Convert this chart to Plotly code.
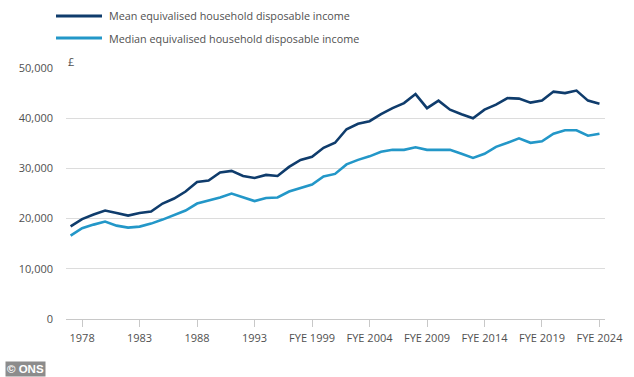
import plotly.graph_objects as go

years = [str(y) for y in range(1977, 1994)] + ["FYE %d" % y for y in range(1995, 2025)]

mean_income = [18450, 19900, 20800, 21600, 21100, 20600, 21100, 21400, 23000, 24000,
               25400, 27300, 27600, 29200, 29500, 28500, 28100, 28700, 28500, 30300,
               31700, 32300, 34100, 35100, 37800, 38900, 39400, 40800, 42000, 43000,
               44800, 42000, 43500, 41700, 40800, 40000, 41700, 42700, 44000, 43900,
               43100, 43500, 45300, 45000, 45500, 43500, 42900]

median_income = [16600, 18100, 18800, 19400, 18600, 18200, 18400, 19000, 19800, 20700,
                 21600, 23000, 23600, 24200, 25000, 24300, 23500, 24100, 24200, 25400,
                 26100, 26800, 28400, 28900, 30800, 31700, 32400, 33300, 33700, 33700,
                 34200, 33700, 33700, 33700, 32900, 32100, 32900, 34300, 35100, 36000,
                 35100, 35400, 36900, 37600, 37600, 36500, 36900]

tick_labels = ["1978", "1983", "1988", "1993", "FYE 1999", "FYE 2004",
               "FYE 2009", "FYE 2014", "FYE 2019", "FYE 2024"]
y_ticks = [0, 10000, 20000, 30000, 40000, 50000]

series_names = ["Mean equivalised household disposable income",
                "Median equivalised household disposable income"]
colors = ["#0f3c6c", "#2397c8"]

x = list(range(len(years)))
tick_pos = [years.index(t) for t in tick_labels]

FONT = "Open Sans"
TXT = "#505050"

fig = go.Figure()
for name, vals, col in zip(series_names, [mean_income, median_income], colors):
    fig.add_trace(go.Scatter(x=x, y=vals, mode="lines", name=name,
                             line=dict(color=col, width=2.6), showlegend=False,
                             customdata=years,
                             hovertemplate="%{customdata}: £%{y:,}<extra>" + name + "</extra>"))

fig.update_layout(
    width=634, height=377,
    margin=dict(l=66, r=29, t=68, b=58),
    paper_bgcolor="white", plot_bgcolor="white",
    font=dict(family=FONT, size=11, color=TXT),
    showlegend=False,
    xaxis=dict(range=[-0.4, 46.48], tickmode="array", tickvals=tick_pos,
               ticktext=tick_labels, showgrid=False, zeroline=False,
               showline=True, linecolor="#c8c8c8", linewidth=1,
               ticks="outside", ticklen=7, tickcolor="#c8c8c8",
               ticklabelstandoff=2,
               tickfont=dict(size=11, color=TXT)),
    yaxis=dict(range=[0, 50000], tickvals=y_ticks,
               ticktext=["{:,}".format(v) for v in y_ticks],
               showgrid=True, gridcolor="#dcdcdc", gridwidth=1,
               zeroline=False, showline=False, ticks="",
               ticklabelstandoff=12,
               tickfont=dict(size=11, color=TXT)),
)

# Legend drawn as paper-positioned keys with real text
leg_y = [16, 38]
for name, col, yy in zip(series_names, colors, leg_y):
    fig.add_shape(type="line", xref="paper", yref="paper",
                  x0=(56 - 66) / 539, x1=(102 - 66) / 539,
                  y0=1 + (68 - yy) / 251, y1=1 + (68 - yy) / 251,
                  line=dict(color=col, width=3))
    fig.add_annotation(text=name, xref="paper", yref="paper",
                       x=(107 - 66) / 539, y=1 + (68 - yy) / 251,
                       xanchor="left", yanchor="middle", showarrow=False,
                       font=dict(family=FONT, size=10.8, color=TXT))

# Unit label
fig.add_annotation(text="£", xref="paper", yref="paper",
                   x=0, y=1 + (68 - 61) / 251, xanchor="left", yanchor="middle",
                   showarrow=False, font=dict(family=FONT, size=11, color=TXT))

# Source badge
fig.add_annotation(text="<b>© ONS</b>", xref="paper", yref="paper",
                   x=(5 - 66) / 539, y=(319 - 369) / 251,
                   xanchor="left", yanchor="middle", showarrow=False,
                   bgcolor="#8c8c8c", borderpad=1,
                   font=dict(family="Liberation Sans", size=11.5, color="white"))

fig.write_html("out.html", config={"displayModeBar": False},
               post_script="document.body.style.margin='0';document.body.style.overflow='hidden';")
